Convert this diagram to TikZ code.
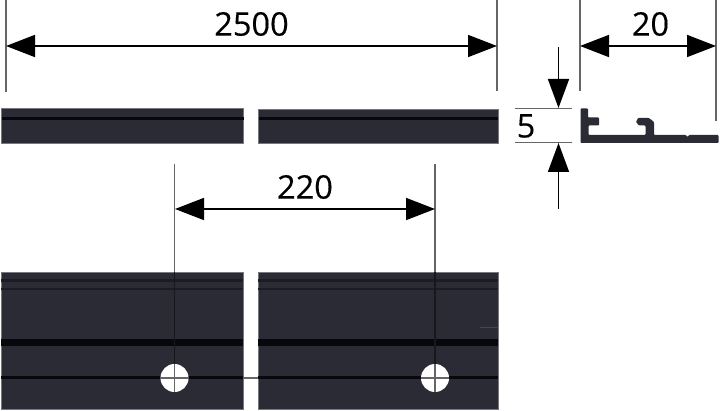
\documentclass[tikz,border=0pt]{standalone}
\usepackage{fontspec}
\setmainfont[FakeBold=0.35]{Open Sans}
\usetikzlibrary{arrows.meta}
\definecolor{barfill}{HTML}{2A2B35}
\definecolor{barline}{HTML}{08080C}
\definecolor{barsoft}{HTML}{1C1D24}
\definecolor{baredge}{HTML}{77777E}
\definecolor{extgray}{HTML}{666666}
\definecolor{overline}{HTML}{17181E}
\tikzset{
  barbox/.style={fill=barfill,draw=baredge,line width=0.6pt},
  extline/.style={draw=extgray,line width=1.4pt},
  dimline/.style={draw=black,line width=1.7pt,{Triangle[length=29pt,width=22pt]}-{Triangle[length=29pt,width=22pt]}},
  dimtail/.style={draw=black,line width=1.7pt,-{Triangle[length=29pt,width=21pt]}},
  dimtext/.style={font=\fontsize{32.5}{33}\selectfont,text=black,inner sep=0pt},
  holecircle/.style={circle,fill=white,minimum size=28pt,inner sep=0pt},
  thinmark/.style={draw=extgray,line width=1.2pt},
}
\begin{document}
\begin{tikzpicture}[x=1pt,y=-1pt]
\useasboundingbox (0,0) rectangle (720,411);
% top bars
\filldraw[barbox] (1.5,108) rectangle (243.5,143);
\filldraw[barbox] (258.5,109) rectangle (498,143);
\draw[barline,line width=3pt] (1.5,118.5) -- (243.5,118.5);
\draw[barline,line width=3pt] (258.5,118.5) -- (498,118.5);
% bottom bars
\filldraw[barbox] (1,272) rectangle (243,409);
\filldraw[barbox] (258,272) rectangle (498,409);
\foreach \a/\b in {1/243,258/498}{
  \draw[barsoft,line width=2.4pt] (\a,280.5) -- (\b,280.5);
  \draw[barsoft,line width=2pt] (\a,289) -- (\b,289);
  \draw[barline,line width=6.5pt] (\a,342.5) -- (\b,342.5);
  \draw[barline,line width=2.4pt] (\a,377.5) -- (\b,377.5);
}
\draw[thinmark] (243,378) -- (258,378);
\draw[draw=extgray!70!black,line width=0.8pt] (480,327.5) -- (498,327.5);
% holes
\node[holecircle] (holeA) at (174.5,378) {};
\node[holecircle] (holeB) at (435,378) {};
% dimension 2500
\coordinate (a1) at (6,0); \coordinate (a2) at (6,92);
\coordinate (b1) at (497,0); \coordinate (b2) at (497,91);
\draw[extline] (a1) -- (a2);
\draw[extline] (b1) -- (b2);
\coordinate (d1) at (6,46); \coordinate (d2) at (497,46);
\draw[dimline] (d1) -- (d2);
\node[dimtext] (t2500) at (251.5,24) {2500};
% dimension 20
\coordinate (c1) at (580,0); \coordinate (c2) at (580,91);
\coordinate (e1) at (716,0); \coordinate (e2) at (716,121);
\draw[extline] (c1) -- (c2);
\draw[extline] (e1) -- (e2);
\coordinate (f1) at (580,46); \coordinate (f2) at (716,46);
\draw[dimline] (f1) -- (f2);
\node[dimtext] (t20) at (650.5,24) {20};
% dimension 5
\coordinate (g1) at (515,108.5); \coordinate (g2) at (572,108.5);
\coordinate (h1) at (515,142.5); \coordinate (h2) at (572,142.5);
\draw[extline] (g1) -- (g2);
\draw[extline] (h1) -- (h2);
\coordinate (i1) at (558.5,47); \coordinate (i2) at (558.5,108);
\coordinate (j1) at (558.5,209); \coordinate (j2) at (558.5,143);
\draw[dimtail] (i1) -- (i2);
\draw[dimtail] (j1) -- (j2);
\node[dimtext] (t5) at (526,126) {5};
% dimension 220
\coordinate (k1) at (174.5,164); \coordinate (k2) at (174.5,272);
\coordinate (l1) at (435,164); \coordinate (l2) at (435,272);
\draw[extline] (k1) -- (k2);
\draw[extline] (l1) -- (l2);
\draw[draw=overline,line width=1.2pt] (k2) -- (holeA.north);
\draw[draw=overline,line width=1.2pt] (l2) -- (holeB.north);
\draw[draw=extgray,line width=1.2pt] (holeA.west) -- (holeA.east);
\draw[draw=extgray,line width=1.2pt] (holeB.west) -- (holeB.east);
\draw[draw=extgray,line width=1.2pt] (holeA.north) -- (holeA.south);
\draw[draw=extgray,line width=1.2pt] (holeB.north) -- (holeB.south);
\coordinate (m1) at (175,209); \coordinate (m2) at (435,209);
\draw[dimline] (m1) -- (m2);
\node[dimtext] (t220) at (305,187) {220};
% profile
\fill[barfill,rounded corners=0.8pt]
  (580.5,108.5) -- (588,108.5) -- (588,117.5) -- (599,117.5) -- (599,125.5)
  -- (588.5,125.5) -- (588.5,135) -- (645.5,135) -- (645.5,125.5) -- (639,125.5)
  -- (636,122) -- (638,118) -- (649,118) -- (654,122) -- (654,135)
  -- (686,135) -- (687.5,137) -- (689,135) -- (718.5,135) -- (718.5,143) -- (580.5,143) -- cycle;
\end{tikzpicture}
\end{document}
